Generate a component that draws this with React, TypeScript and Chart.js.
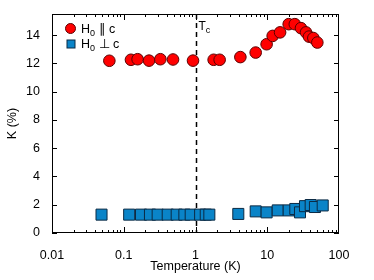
import React, { useEffect, useRef } from "react";
import { Chart, registerables } from "chart.js";

Chart.register(...registerables);

const parallelT = [0.063, 0.126, 0.156, 0.225, 0.324, 0.486, 0.923, 1.79, 2.17, 4.22, 6.9, 9.8, 11.9, 15.1, 19.9, 24.2, 29.5, 34.7, 38.2, 43.9, 49.9];
const parallelK = [12.19, 12.26, 12.3, 12.2, 12.3, 12.28, 12.2, 12.26, 12.26, 12.45, 12.77, 13.36, 13.95, 14.2, 14.78, 14.78, 14.5, 14.2, 13.9, 13.8, 13.48];

const perpT = [0.049, 0.119, 0.174, 0.232, 0.297, 0.41, 0.547, 0.7, 0.857, 1.16, 1.39, 1.56, 3.95, 6.9, 9.8, 14.0, 19.9, 24.6, 28.6, 33.6, 40.3, 46.2, 59.3];
const perpK = [1.3, 1.3, 1.3, 1.3, 1.3, 1.3, 1.3, 1.3, 1.3, 1.3, 1.3, 1.3, 1.35, 1.53, 1.46, 1.6, 1.6, 1.7, 1.46, 1.9, 1.98, 1.84, 1.95];

const xTicks = [0.01, 0.1, 1, 10, 100];
const yTicks = [0, 2, 4, 6, 8, 10, 12, 14];
const tcValue = 1;

const FONT = "'Liberation Sans', Arial, Helvetica, sans-serif";
const RED = "#ff0000";
const RED_BORDER = "#5a0000";
const BLUE = "#0a84c8";
const BLUE_BORDER = "#0b2a44";

const decorPlugin = {
  id: "decor",
  beforeDatasetsDraw(chart: any) {
    const { ctx, chartArea, scales } = chart;
    const x = Math.round(scales.x.getPixelForValue(tcValue)) + 0.5;
    ctx.save();
    ctx.strokeStyle = "#000";
    ctx.lineWidth = 1.5;
    ctx.setLineDash([5, 4]);
    ctx.beginPath();
    ctx.moveTo(x, chartArea.top);
    ctx.lineTo(x, chartArea.bottom);
    ctx.stroke();
    ctx.restore();
  },
  afterDraw(chart: any) {
    const { ctx, chartArea, scales } = chart;
    const { left, right, top, bottom } = chartArea;
    ctx.save();
    ctx.strokeStyle = "#000";
    ctx.lineWidth = 1;
    ctx.strokeRect(left + 0.5, top + 0.5, right - left - 1, bottom - top - 1);
    ctx.beginPath();
    // x ticks
    for (let d = -2; d < 2; d++) {
      for (let m = 1; m <= 9; m++) {
        const v = m * Math.pow(10, d);
        const px = Math.round(scales.x.getPixelForValue(v)) + 0.5;
        const len = m === 1 ? 6 : 3;
        if (m === 1 && d === -2) continue;
        ctx.moveTo(px, bottom);
        ctx.lineTo(px, bottom - len);
        ctx.moveTo(px, top);
        ctx.lineTo(px, top + len);
      }
    }
    // y ticks
    for (const v of yTicks) {
      const py = Math.round(scales.y.getPixelForValue(v)) + 0.5;
      ctx.moveTo(left, py);
      ctx.lineTo(left + 5, py);
      ctx.moveTo(right, py);
      ctx.lineTo(right - 5, py);
    }
    ctx.stroke();

    // Tc label
    ctx.fillStyle = "#000";
    ctx.textBaseline = "alphabetic";
    ctx.textAlign = "left";
    const tx = scales.x.getPixelForValue(tcValue) + 3;
    ctx.font = `12px ${FONT}`;
    ctx.fillText("T", tx, 30);
    const tw = ctx.measureText("T").width;
    ctx.font = `9px ${FONT}`;
    ctx.fillText("c", tx + tw, 33);

    // legend
    const drawLabel = (x: number, y: number, sym: string) => {
      ctx.font = `12.5px ${FONT}`;
      ctx.fillText("H", x, y);
      const hw = ctx.measureText("H").width;
      ctx.font = `9px ${FONT}`;
      ctx.fillText("0", x + hw, y + 3);
      const zw = ctx.measureText("0").width;
      ctx.font = `12.5px ${FONT}`;
      ctx.fillText(" " + sym + " c", x + hw + zw, y);
    };
    ctx.fillStyle = RED;
    ctx.strokeStyle = RED_BORDER;
    ctx.beginPath();
    ctx.arc(70.5, 28.5, 5, 0, Math.PI * 2);
    ctx.fill();
    ctx.stroke();
    ctx.fillStyle = BLUE;
    ctx.strokeStyle = BLUE_BORDER;
    ctx.fillRect(67, 40, 8, 8);
    ctx.strokeRect(67, 40, 8, 8);
    ctx.fillStyle = "#000";
    drawLabel(81, 33, "\u2225");
    drawLabel(81, 48, "\u22A5");
    ctx.restore();
  },
};

export default function App() {
  const ref = useRef<HTMLCanvasElement>(null);
  useEffect(() => {
    if (!ref.current) return;
    const chart = new Chart(ref.current, {
      type: "scatter",
      data: {
        datasets: [
          {
            label: "H\u2080 \u2225 c",
            data: parallelT.map((t, i) => ({ x: t, y: parallelK[i] })),
            backgroundColor: RED,
            borderColor: RED_BORDER,
            borderWidth: 1,
            pointRadius: 5.8,
            pointStyle: "circle",
          },
          {
            label: "H\u2080 \u22A5 c",
            data: perpT.map((t, i) => ({ x: t, y: perpK[i] })),
            backgroundColor: BLUE,
            borderColor: BLUE_BORDER,
            borderWidth: 1,
            pointRadius: 7.8,
            pointStyle: "rect",
          },
        ],
      },
      options: {
        responsive: false,
        animation: false,
        devicePixelRatio: 1,
        layout: { padding: { top: 14, right: 35, left: 0, bottom: 0 } },
        plugins: { legend: { display: false }, tooltip: { enabled: false } },
        scales: {
          x: {
            type: "logarithmic",
            min: 0.01,
            max: 100,
            grid: { display: false },
            border: { display: false },
            afterBuildTicks: (scale: any) => {
              scale.ticks = xTicks.map((v) => ({ value: v, major: true }));
            },
            afterFit: (scale: any) => {
              scale.height = 47;
            },
            ticks: {
              autoSkip: false,
              maxRotation: 0,
              padding: 7,
              color: "#000",
              font: { family: FONT, size: 12.5 },
              callback: (v: any) => String(v),
            },
            title: {
              display: true,
              text: "Temperature (K)",
              color: "#000",
              font: { family: FONT, size: 12.5 },
              padding: 6,
            },
          },
          y: {
            min: 0,
            max: 15.5,
            grid: { display: false },
            border: { display: false },
            afterBuildTicks: (scale: any) => {
              scale.ticks = yTicks.map((v) => ({ value: v }));
            },
            afterFit: (scale: any) => {
              scale.width = 52;
            },
            ticks: {
              autoSkip: false,
              padding: 4,
              color: "#000",
              font: { family: FONT, size: 12.5 },
              callback: (v: any) => String(v),
            },
            title: {
              display: true,
              text: "K (%)",
              color: "#000",
              font: { family: FONT, size: 12.5 },
              padding: 5.5,
            },
          },
        },
      },
      plugins: [decorPlugin],
    } as any);
    return () => chart.destroy();
  }, []);
  return (
    <div style={{ position: "absolute", left: 0, top: 0, width: 374, height: 280, background: "#fff" }}>
      <canvas ref={ref} width={374} height={280} />
    </div>
  );
}
